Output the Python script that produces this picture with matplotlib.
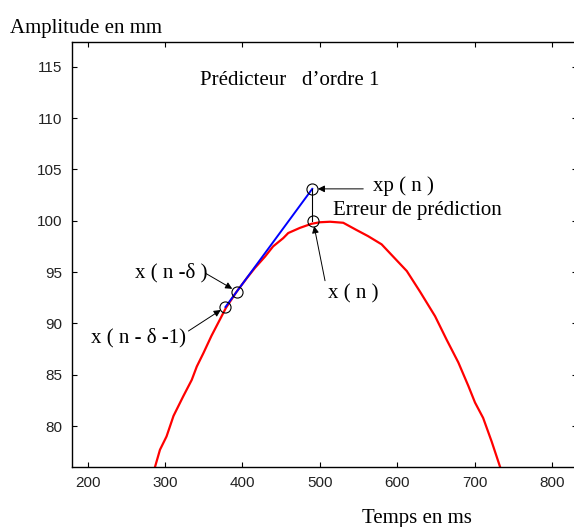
import matplotlib
matplotlib.use("Agg")
import matplotlib.pyplot as plt

# signal trace (ms, mm)
t_ms = [287, 293.5, 302, 311, 323.5, 334.5, 341, 349.5, 360, 371, 378.5, 392.5,
        405.5, 416, 429, 439.5, 452.5, 459, 474, 489, 500, 513, 530, 547, 562,
        579.5, 594.5, 612, 629, 648.5, 663.5, 678.5, 691.5, 700, 710.5, 721.5, 732.5]
amp = [76.0, 77.7, 79.0, 81.0, 82.9, 84.5, 85.8, 87.1, 88.8, 90.4, 91.5, 93.1,
       94.4, 95.4, 96.5, 97.5, 98.3, 98.8, 99.3, 99.7, 99.85, 99.9, 99.8, 99.1, 98.5,
       97.7, 96.5, 95.1, 93.1, 90.7, 88.4, 86.2, 83.9, 82.3, 80.8, 78.5, 76.0]

# prediction points: x(n-d-1), x(n-d), xp(n)
pred_t = [378, 393, 490]
pred_amp = [91.6, 93.1, 103.1]
# true sample x(n)
xn_t = 491
xn_amp = 100.0

x_ticks = [200, 300, 400, 500, 600, 700, 800]
y_ticks = [80, 85, 90, 95, 100, 105, 110, 115]

SERIF = "Liberation Serif"
SANS = "Liberation Sans"

fig = plt.figure(figsize=(5.74, 5.27), dpi=100)
ax = fig.add_axes([0.1249, 0.1144, 0.8803, 0.8065])

ax.plot(t_ms, amp, color="red", lw=1.6, zorder=2)
ax.plot([pred_t[0], pred_t[-1]], [pred_amp[0], pred_amp[-1]], color="blue", lw=1.4, zorder=3)
ax.plot([pred_t[-1], pred_t[-1]], [pred_amp[-1], xn_amp], color="black", lw=0.8, zorder=3)
ax.plot(pred_t + [xn_t], pred_amp + [xn_amp], linestyle="none", marker="o", ms=8,
        mfc="none", mec="black", mew=0.8, zorder=4)

ax.set_xlim(179.6, 831.6)
ax.set_ylim(76.05, 117.43)
ax.set_xticks(x_ticks)
ax.set_yticks(y_ticks)
ax.tick_params(direction="in", top=True, right=True, length=3.6, width=0.8,
               labelsize=11, labelcolor="#222222", pad=7)
for lab in ax.get_xticklabels() + ax.get_yticklabels():
    lab.set_family(SANS)
for s in ax.spines.values():
    s.set_linewidth(1.0)

arrow = dict(arrowstyle="-|>", color="black", lw=0.7, mutation_scale=10,
             shrinkA=0, shrinkB=4)
fs = 15

# xp(n)
ax.annotate("", xy=(pred_t[2], pred_amp[2]), xytext=(51, 0),
            textcoords="offset pixels", arrowprops=arrow)
ax.annotate("xp ( n )", xy=(pred_t[2], pred_amp[2]), xytext=(61, 3),
            textcoords="offset pixels", ha="left", va="center",
            fontsize=fs, family=SERIF)
ax.annotate("Erreur de prédiction", xy=(xn_t, xn_amp), xytext=(20, 10),
            textcoords="offset pixels", ha="left", va="center",
            fontsize=fs, family=SERIF)
# x(n)
ax.annotate("", xy=(xn_t, xn_amp), xytext=(12, -60),
            textcoords="offset pixels", arrowprops=arrow)
ax.annotate("x ( n )", xy=(xn_t, xn_amp), xytext=(15, -73),
            textcoords="offset pixels", ha="left", va="center",
            fontsize=fs, family=SERIF)
# x(n-d)
ax.annotate("", xy=(pred_t[1], pred_amp[1]), xytext=(-31, 18),
            textcoords="offset pixels", arrowprops=arrow)
ax.annotate("x ( n -δ )", xy=(pred_t[1], pred_amp[1]), xytext=(-30, 19),
            textcoords="offset pixels", ha="right", va="center",
            fontsize=fs, family=SERIF)
# x(n-d-1)
ax.annotate("", xy=(pred_t[0], pred_amp[0]), xytext=(-37, -24),
            textcoords="offset pixels", arrowprops=arrow)
ax.annotate("x ( n - δ -1)", xy=(pred_t[0], pred_amp[0]), xytext=(-39, -31),
            textcoords="offset pixels", ha="right", va="center",
            fontsize=fs, family=SERIF)

ax.text(0.2547, 0.898, "Prédicteur   d’ordre 1", transform=ax.transAxes,
        ha="left", va="baseline", fontsize=fs, family=SERIF)
fig.text(0.0174, 0.937, "Amplitude en mm", ha="left", va="baseline",
         fontsize=fs, family=SERIF)
fig.text(0.6307, 0.0076, "Temps en ms", ha="left", va="baseline",
         fontsize=fs, family=SERIF)

fig.savefig("out.png", dpi=100)
